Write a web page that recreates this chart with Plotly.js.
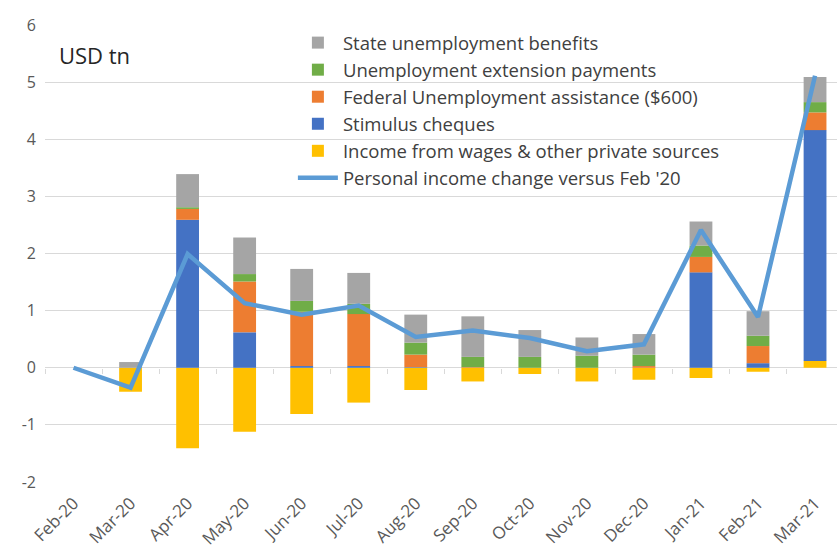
<!DOCTYPE html>
<html>
<head>
<meta charset="utf-8">
<script src="https://cdn.plot.ly/plotly-3.0.1.min.js"></script>
<style>html,body{margin:0;padding:0;background:#fff;}#chart{width:837px;height:552px;}</style>
</head>
<body>
<div id="chart"></div>
<script>
const categories = ['Feb-20','Mar-20','Apr-20','May-20','Jun-20','Jul-20','Aug-20','Sep-20','Oct-20','Nov-20','Dec-20','Jan-21','Feb-21','Mar-21'];
const wages      = [0, -0.42, -1.41, -1.12, -0.81, -0.61, -0.39, -0.24, -0.11, -0.24, -0.21, -0.18, -0.07, 0.12];
const stimulus   = [0, 0, 2.59, 0.62, 0.03, 0.03, 0.01, 0, 0, 0, 0, 1.67, 0.08, 4.04];
const federal    = [0, 0, 0.19, 0.89, 0.95, 0.91, 0.22, 0.01, 0, 0, 0.03, 0.27, 0.30, 0.31];
const extension  = [0, 0, 0.03, 0.13, 0.19, 0.18, 0.21, 0.18, 0.19, 0.21, 0.20, 0.20, 0.18, 0.18];
const stateBen   = [0, 0.10, 0.58, 0.64, 0.56, 0.54, 0.49, 0.71, 0.47, 0.32, 0.36, 0.42, 0.43, 0.44];
const totalChange= [0, -0.35, 1.99, 1.13, 0.93, 1.09, 0.54, 0.65, 0.52, 0.29, 0.41, 2.41, 0.89, 5.11];
const yTicks = [-2, -1, 0, 1, 2, 3, 4, 5, 6];

const FONT = '"Open Sans", "Noto Sans", sans-serif';

function bar(name, y, color, rank) {
  return {type:'bar', name:name, x:categories, y:y, legendrank:rank,
    marker:{color:color, line:{width:0}}, hoverinfo:'x+y+name'};
}
const traces = [
  bar('Income from wages & other private sources', wages, '#FFC000', 5),
  bar('Stimulus cheques', stimulus, '#4472C4', 4),
  bar('Federal Unemployment assistance ($600)', federal, '#ED7D31', 3),
  bar('Unemployment extension payments', extension, '#70AD47', 2),
  bar('State unemployment benefits', stateBen, '#A5A5A5', 1),
  {type:'scatter', mode:'lines', name:"Personal income change versus Feb '20", x:categories, y:totalChange,
    legendrank:6, line:{color:'#5B9BD5', width:4.5}},
  {type:'scatter', mode:'markers', x:categories, y:categories.map(()=>0), xaxis:'x2', yaxis:'y',
    marker:{opacity:0, size:1}, showlegend:false, hoverinfo:'skip'}
];

const layout = {
  width:837, height:552,
  margin:{l:45, r:0, t:25, b:70},
  paper_bgcolor:'#ffffff', plot_bgcolor:'#ffffff',
  barmode:'relative', bargap:0.6,
  font:{family:FONT, color:'#595959'},
  showlegend:true,
  legend:{x:0.313, y:1.002, xanchor:'left', yanchor:'top', traceorder:'normal',
    font:{family:FONT, size:18.5, color:'#404040'}, bgcolor:'rgba(0,0,0,0)', itemwidth:40},
  xaxis:{type:'category', categoryarray:categories, range:[-0.5, 13.385], showgrid:false, zeroline:false,
    showline:false, ticks:'', tickangle:-45, tickfont:{family:FONT, size:17, color:'#595959'}, ticklabelstandoff:7},
  xaxis2:{type:'category', categoryarray:categories, overlaying:'x', anchor:'free', position:0.25,
    range:[-0.5, 13.385], showgrid:false, zeroline:false, showline:false, showticklabels:false,
    ticks:'outside', tickson:'boundaries', ticklen:5, tickcolor:'#D9D9D9', tickwidth:1},
  yaxis:{range:[-2, 6], tickvals:yTicks, ticktext:yTicks.map(String), showgrid:true, gridcolor:'#D9D9D9', gridwidth:1,
    zeroline:true, zerolinecolor:'#D9D9D9', zerolinewidth:1, showline:false,
    tickfont:{family:FONT, size:16, color:'#595959'}, ticklabelstandoff:8},
  annotations:[{text:'USD tn', xref:'paper', yref:'paper', x:0.015, y:0.934, xanchor:'left', yanchor:'middle',
    showarrow:false, font:{family:FONT, size:22, color:'#262626'}}]
};

Plotly.newPlot('chart', traces, layout, {displayModeBar:false, staticPlot:true});
</script>
</body>
</html>
